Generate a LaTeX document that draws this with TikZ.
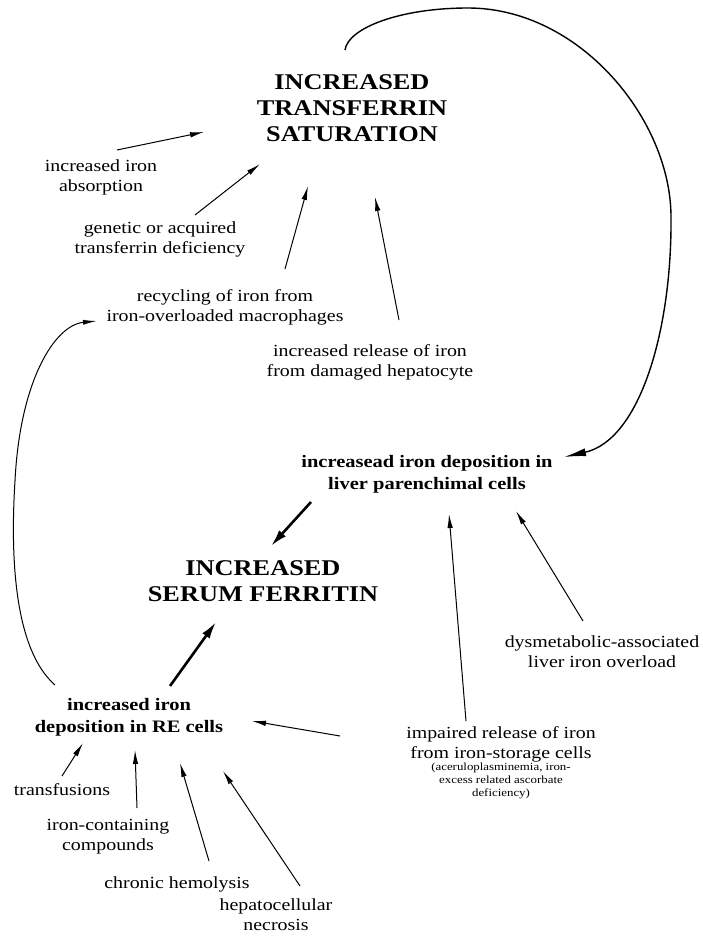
\documentclass[tikz,border=0pt]{standalone}
\usepackage{fontspec}
\setmainfont{Liberation Serif}[FakeStretch=1.17]
\usetikzlibrary{arrows.meta,calc}
\begin{document}
\begin{tikzpicture}[x=1pt,y=-1pt,
  lab/.style={align=center, inner sep=0pt, font=\fontsize{17}{20}\selectfont},
  blab/.style={align=center, inner sep=0pt, font=\fontsize{17.5}{22}\selectfont\bfseries},
  ttl/.style={align=center, inner sep=0pt, font=\fontsize{22.5}{26}\selectfont\bfseries},
  smalllab/.style={align=center, inner sep=0pt, font=\fontsize{11}{13}\selectfont},
  thinarr/.style={line width=1pt, -{Latex[length=14pt,width=5.5pt]}},
  thickarr/.style={line width=2.6pt, -{Latex[length=17pt,width=9pt]}},
  bigcurve/.style={line width=1.4pt, -{Latex[length=22pt,width=8pt]}},
  loopcurve/.style={line width=1pt, -{Latex[length=14pt,width=5pt]}}]
\useasboundingbox (0,0) rectangle (702,942);

% nodes
\node[ttl]  (T1)  at (352,108) {INCREASED\\TRANSFERRIN\\SATURATION};
\node[ttl]  (T2)  at (263,581) {INCREASED\\SERUM FERRITIN};
\node[lab]  (a1)  at (101,177) {increased iron\\absorption};
\node[lab]  (a2)  at (160,239) {genetic or acquired\\transferrin deficiency};
\node[lab]  (a3)  at (225,307) {recycling of iron from\\iron-overloaded macrophages};
\node[lab]  (a4)  at (370,362) {increased release of iron\\from damaged hepatocyte};
\node[blab] (L)   at (427,474) {increasead iron deposition in\\liver parenchimal cells};
\node[lab]  (d)   at (602,652) {dysmetabolic-associated\\liver iron overload};
\node[blab] (RE)  at (129,717) {increased iron\\deposition in RE cells};
\node[lab]  (imp) at (501,744) {impaired release of iron\\from iron-storage cells};
\node[smalllab] (impn) at (501,781) {(aceruloplasminemia, iron-\\excess related ascorbate\\deficiency)};
\node[lab]  (tr)  at (62,790)  {transfusions};
\node[lab]  (ic)  at (108,837) {iron-containing\\compounds};
\node[lab]  (ch)  at (177,884) {chronic hemolysis};
\node[lab]  (hn)  at (276,915) {hepatocellular\\necrosis};

% thin arrows
\draw[thinarr] ($(a1)+(16,-27)$) -- ($(T1)+(-148,24)$);
\draw[thinarr] ($(a2)+(35,-24)$) -- ($(T1)+(-92,56)$);
\draw[thinarr] ($(a3)+(60,-38)$) -- ($(T1)+(-44,78)$);
\draw[thinarr] ($(a4)+(29,-42)$) -- ($(T1)+(23,89)$);
\draw[thinarr] ($(imp)+(-35,-23)$) -- ($(L)+(22,40)$);
\draw[thinarr] ($(d)+(-19,-31)$) -- ($(L)+(89,37)$);
\draw[thinarr] ($(imp)+(-161,-8)$) -- ($(RE)+(123,4)$);
\draw[thinarr] ($(tr)+(0,-14)$) -- ($(RE)+(-46,26)$);
\draw[thinarr] ($(ic)+(29,-29)$) -- ($(RE)+(6,33)$);
\draw[thinarr] ($(ch)+(32,-23)$) -- ($(RE)+(51,46)$);
\draw[thinarr] ($(hn)+(24,-29)$) -- ($(RE)+(94,54)$);

% thick arrows
\draw[thickarr] ($(L)+(-116,28)$) -- ($(T2)+(8,-35)$);
\draw[thickarr] ($(RE)+(41,-31)$) -- ($(T2)+(-47,41)$);

% big feedback curve
\draw[bigcurve] ($(T1)+(-7,-58)$) .. controls (348,28) and (400,8) .. (468,8)
   .. controls (580,8) and (671,120) .. (671,217)
   .. controls (672,330) and (640,440) .. ($(L)+(137,-17)$);

% left loop
\draw[loopcurve] ($(RE)+(-74,-32)$) .. controls (15,650) and (10,560) .. (15,481)
   .. controls (20,380) and (55,325) .. ($(a3)+(-128,14)$);
\end{tikzpicture}
\end{document}
